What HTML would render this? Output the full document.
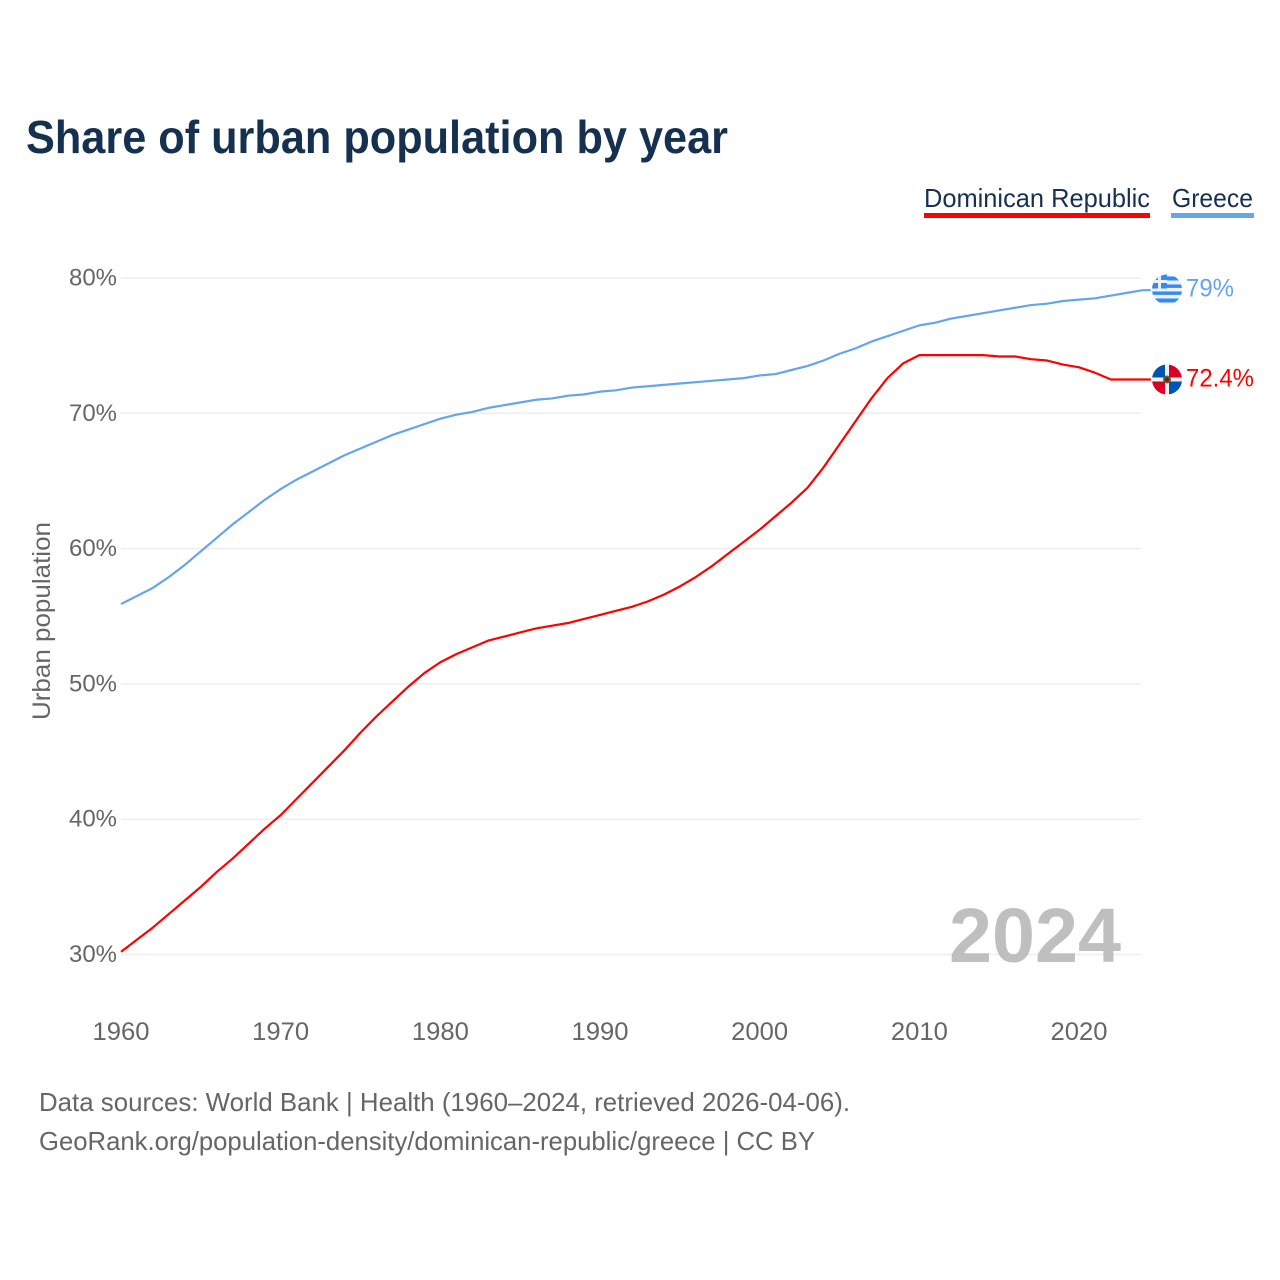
<!DOCTYPE html>
<html lang="en">
<head>
<meta charset="utf-8">
<title>Share of urban population by year</title>
<style>
html,body{margin:0;padding:0;background:#fff;width:1280px;height:1280px;overflow:hidden}
svg{display:block}
text{font-family:"Liberation Sans",sans-serif}
</style>
</head>
<body>
<svg id="chart" width="1280" height="1280" viewBox="0 0 1280 1280" xmlns="http://www.w3.org/2000/svg">
<defs>
<clipPath id="flag-clip-gr"><circle cx="0" cy="0" r="15"/></clipPath>
<clipPath id="flag-clip-do"><circle cx="0" cy="0" r="15"/></clipPath>
</defs>
<text x="26" y="153" font-size="46" font-weight="700" fill="#163150" textLength="702" lengthAdjust="spacingAndGlyphs">Share of urban population by year</text>

<g>
<text x="924" y="207" font-size="26" fill="#163150" textLength="226" lengthAdjust="spacingAndGlyphs">Dominican Republic</text>
<rect x="924" y="213" width="226" height="5" fill="#ff0000"/>
</g>
<g>
<text x="1172" y="207" font-size="26" fill="#163150" textLength="81" lengthAdjust="spacingAndGlyphs">Greece</text>
<rect x="1171" y="213" width="83" height="5" fill="#64a5ec"/>
</g>

<g id="grid"></g>
<g id="yticks"></g>
<g id="xticks"></g>
<text transform="translate(50,621) rotate(-90)" text-anchor="middle" font-size="25" fill="#666666" textLength="198" lengthAdjust="spacingAndGlyphs">Urban population</text>

<text x="949" y="962" font-size="77" font-weight="700" fill="#bfbfbf" textLength="172" lengthAdjust="spacingAndGlyphs">2024</text>

<g id="series"></g>

<g id="flag-gr">
<g clip-path="url(#flag-clip-gr)">
<rect x="-15" y="-15" width="30" height="30" fill="#f0f0f0"/>
<rect x="-15" y="-13" width="30" height="4" fill="#338af3"/>
<rect x="-15" y="-5" width="30" height="3.4" fill="#338af3"/>
<rect x="-15" y="2" width="30" height="3.4" fill="#338af3"/>
<rect x="-15" y="9" width="30" height="4" fill="#338af3"/>
<rect x="-15" y="-15" width="15" height="14" fill="#338af3"/>
<rect x="-15" y="-9.5" width="15" height="3" fill="#f0f0f0"/>
<rect x="-9" y="-15" width="3" height="14" fill="#f0f0f0"/>
</g>
</g>
<g id="flag-do">
<g clip-path="url(#flag-clip-do)">
<rect x="-15" y="-15" width="30" height="30" fill="#f0f0f0"/>
<rect x="-15" y="-15" width="13" height="13" fill="#0052b4"/>
<rect x="2" y="-15" width="13" height="13" fill="#d80027"/>
<rect x="-15" y="2" width="13" height="13" fill="#d80027"/>
<rect x="2" y="2" width="13" height="13" fill="#0052b4"/>
<circle cx="0" cy="0" r="4" fill="#496e2d"/>
<circle cx="0" cy="0" r="2" fill="#a2001d"/>
</g>
</g>
<g id="end-labels"></g>

<text x="39" y="1111" font-size="26" fill="#666666" textLength="811" lengthAdjust="spacingAndGlyphs">Data sources: World Bank | Health (1960–2024, retrieved 2026-04-06).</text>
<text x="39" y="1150" font-size="26" fill="#666666" textLength="776" lengthAdjust="spacingAndGlyphs">GeoRank.org/population-density/dominican-republic/greece | CC BY</text>
</svg>
<script>
const startYear = 1960;
const greeceValues = [55.9,56.5,57.1,57.9,58.8,59.8,60.8,61.8,62.7,63.6,64.4,65.1,65.7,66.3,66.9,67.4,67.9,68.4,68.8,69.2,69.6,69.9,70.1,70.4,70.6,70.8,71.0,71.1,71.3,71.4,71.6,71.7,71.9,72.0,72.1,72.2,72.3,72.4,72.5,72.6,72.8,72.9,73.2,73.5,73.9,74.4,74.8,75.3,75.7,76.1,76.5,76.7,77.0,77.2,77.4,77.6,77.8,78.0,78.1,78.3,78.4,78.5,78.7,78.9,79.1];
const dominicanValues = [30.2,31.1,32.0,33.0,34.0,35.0,36.1,37.1,38.2,39.3,40.3,41.5,42.7,43.9,45.1,46.4,47.6,48.7,49.8,50.8,51.6,52.2,52.7,53.2,53.5,53.8,54.1,54.3,54.5,54.8,55.1,55.4,55.7,56.1,56.6,57.2,57.9,58.7,59.6,60.5,61.4,62.4,63.4,64.5,66.0,67.7,69.4,71.1,72.6,73.7,74.3,74.3,74.3,74.3,74.3,74.2,74.2,74.0,73.9,73.6,73.4,73.0,72.5,72.5,72.5];
const yTickValues = [30,40,50,60,70,80];
const xTickYears = [1960,1970,1980,1990,2000,2010,2020];
const endLabelGreece = "79%";
const endLabelDominican = "72.4%";

const NS = "http://www.w3.org/2000/svg";
function xScale(year){ return 121 + (year - 1960) * (1079 - 121) / 60; }
function yScale(v){ return 954.5 - (v - 30) * (954.5 - 278) / 50; }

const grid = document.getElementById('grid');
const yticks = document.getElementById('yticks');
yTickValues.forEach(function(v){
  const line = document.createElementNS(NS,'line');
  
  
  line.setAttribute('x1', 121);
  line.setAttribute('x2', 1141);
  line.setAttribute('y1', yScale(v));
  line.setAttribute('y2', yScale(v));
  line.setAttribute('stroke', '#eeeeee');
  line.setAttribute('stroke-width', '1.5');
  grid.appendChild(line);
  const t = document.createElementNS(NS,'text');
  
  
  t.setAttribute('x', 117);
  t.setAttribute('y', yScale(v) + 7.5);
  t.setAttribute('text-anchor', 'end');
  t.setAttribute('font-size', '24');
  t.setAttribute('fill', '#666666');
  t.setAttribute('textLength', '48');
  t.setAttribute('lengthAdjust', 'spacingAndGlyphs');
  t.textContent = v + '%';
  yticks.appendChild(t);
});

const xticks = document.getElementById('xticks');
xTickYears.forEach(function(y){
  const t = document.createElementNS(NS,'text');
  
  
  t.setAttribute('x', xScale(y));
  t.setAttribute('y', 1040);
  t.setAttribute('text-anchor', 'middle');
  t.setAttribute('font-size', '25');
  t.setAttribute('fill', '#666666');
  t.setAttribute('textLength', '57');
  t.setAttribute('lengthAdjust', 'spacingAndGlyphs');
  t.textContent = y;
  xticks.appendChild(t);
});

function pathFor(values){
  let d = '';
  values.forEach(function(v,i){
    d += (i ? 'L' : 'M') + xScale(startYear + i).toFixed(2) + ' ' + yScale(v).toFixed(2);
  });
  return d;
}
const series = document.getElementById('series');

const greeceLine = document.createElementNS(NS,'path');


greeceLine.setAttribute('d', pathFor(greeceValues) + 'h8');
greeceLine.setAttribute('fill', 'none');
greeceLine.setAttribute('stroke', '#64a5ec');
greeceLine.setAttribute('stroke-width', '2.2');
greeceLine.setAttribute('stroke-linejoin', 'round');
series.appendChild(greeceLine);

const redLine = document.createElementNS(NS,'path');


redLine.setAttribute('d', pathFor(dominicanValues) + 'h8');
redLine.setAttribute('fill', 'none');
redLine.setAttribute('stroke', '#ff0000');
redLine.setAttribute('stroke-width', '2.2');
redLine.setAttribute('stroke-linejoin', 'round');
series.appendChild(redLine);

const lastGr = greeceValues[greeceValues.length - 1];
const lastDo = dominicanValues[dominicanValues.length - 1];
document.getElementById('flag-gr').setAttribute('transform', 'translate(1167,' + (yScale(lastGr) - 0.7) + ')');
document.getElementById('flag-do').setAttribute('transform', 'translate(1167,' + yScale(lastDo) + ')');

const endLabels = document.getElementById('end-labels');
const grLabel = document.createElementNS(NS,'text');


grLabel.setAttribute('x', 1186);
grLabel.setAttribute('y', yScale(lastGr) + 6.5);
grLabel.setAttribute('font-size', '25');
grLabel.setAttribute('fill', '#64a5ec');
grLabel.setAttribute('textLength', '48');
grLabel.setAttribute('lengthAdjust', 'spacingAndGlyphs');
grLabel.textContent = endLabelGreece;
endLabels.appendChild(grLabel);

const doLabel = document.createElementNS(NS,'text');


doLabel.setAttribute('x', 1186);
doLabel.setAttribute('y', yScale(lastDo) + 7);
doLabel.setAttribute('font-size', '25');
doLabel.setAttribute('fill', '#ff0000');
doLabel.setAttribute('textLength', '68');
doLabel.setAttribute('lengthAdjust', 'spacingAndGlyphs');
doLabel.textContent = endLabelDominican;
endLabels.appendChild(doLabel);
</script>
</body>
</html>
